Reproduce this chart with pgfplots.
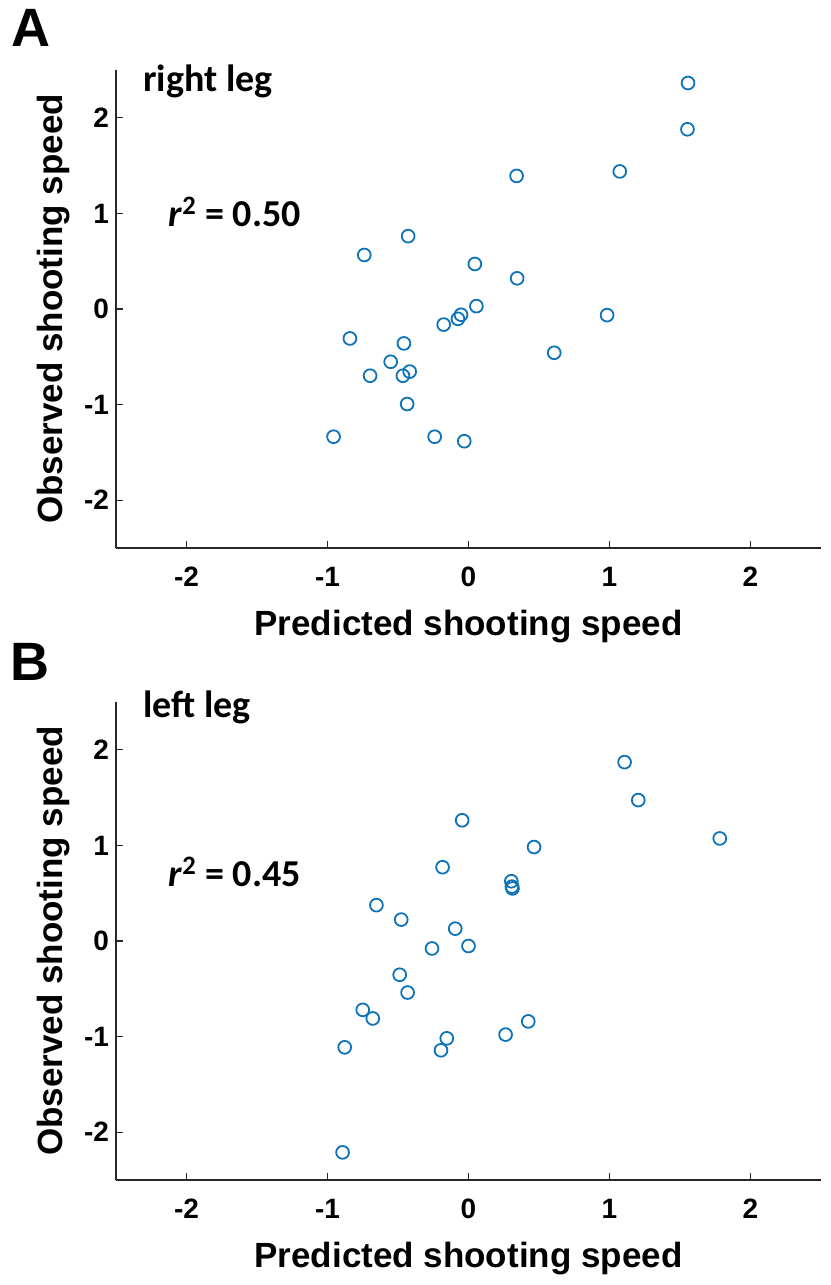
\documentclass[border=0pt]{standalone}
\usepackage{fontspec}
\usepackage{pgfplots}
\pgfplotsset{compat=1.18}
\setmainfont{Liberation Sans}
\newfontfamily\calfont{Carlito}
\definecolor{mblue}{rgb}{0.05,0.45,0.72}
\definecolor{axgray}{rgb}{0.15,0.15,0.15}
\pgfplotsset{panel/.style={
  width=352.5pt, height=239pt, scale only axis,
  xmin=-2.5, xmax=2.5, ymin=-2.5, ymax=2.5,
  axis x line*=bottom, axis y line*=left,
  axis line style={axgray, line width=0.75pt},
  xtick={-2,-1,0,1,2}, ytick={-2,-1,0,1,2},
  xticklabels={-2,-1,0,1,2}, yticklabels={-2,-1,0,1,2},
  tick align=inside, major tick length=3.5pt,
  tick style={axgray, line width=0.6pt},
  ticklabel style={font=\bfseries\fontsize{14}{16}\selectfont, text=black},
  xticklabel style={yshift=-6pt},
  xlabel={Predicted shooting speed}, ylabel={Observed shooting speed},
  label style={font=\bfseries\fontsize{17.5}{20}\selectfont},
  xlabel style={at={(axis description cs:0.5,0)}, anchor=base, yshift=-43.5pt},
  ylabel style={at={(axis description cs:-0.0752,0.5)}, anchor=base},
  clip=false,
}}
\pgfplotsset{pts/.style={only marks, mark=o, mark size=3.2pt, color=mblue, line width=0.9pt}}
\begin{document}
\begin{tikzpicture}
\begin{axis}[panel, at={(0pt,0pt)}, anchor=south west]
\addplot[pts] coordinates {
(1.557,2.364) (1.553,1.880) (1.073,1.439) (0.341,1.392) (-0.428,0.762)
(-0.739,0.565) (0.045,0.471) (0.345,0.321) (0.056,0.030) (-0.053,-0.060)
(-0.075,-0.103) (-0.176,-0.163) (0.983,-0.064) (-0.841,-0.308) (-0.458,-0.360)
(-0.552,-0.552) (0.608,-0.458) (-0.698,-0.698) (-0.465,-0.698) (-0.417,-0.655)
(-0.435,-0.994) (-0.957,-1.336) (-0.240,-1.336) (-0.030,-1.383)
};
\node[anchor=base west, inner sep=0, font=\calfont\bfseries\fontsize{19}{22}\selectfont] at (axis description cs:0.0383,0.956) {right leg};
\node[anchor=base west, inner sep=0, font=\calfont\bfseries\fontsize{19}{22}\selectfont] at (axis description cs:0.0738,0.672) {\textit{r}\textsuperscript{2} = 0.50};
\end{axis}
\begin{axis}[panel, at={(0pt,-316pt)}, anchor=south west]
\addplot[pts] coordinates {
(1.107,1.871) (1.204,1.474) (1.782,1.073) (-0.045,1.263) (0.465,0.983)
(-0.184,0.772) (0.304,0.625) (0.308,0.569) (0.312,0.550) (-0.653,0.375)
(-0.477,0.224) (-0.094,0.129) (0.000,-0.052) (-0.259,-0.078) (-0.488,-0.353)
(-0.432,-0.539) (-0.750,-0.720) (-0.679,-0.810) (0.424,-0.841) (0.263,-0.979)
(-0.154,-1.018) (-0.195,-1.143) (-0.878,-1.112) (-0.893,-2.211)
};
\node[anchor=base west, inner sep=0, font=\calfont\bfseries\fontsize{19}{22}\selectfont] at (axis description cs:0.0383,0.967) {left leg};
\node[anchor=base west, inner sep=0, font=\calfont\bfseries\fontsize{19}{22}\selectfont] at (axis description cs:0.0738,0.613) {\textit{r}\textsuperscript{2} = 0.45};
\end{axis}
\node[font=\bfseries\fontsize{27}{30}\selectfont, inner sep=0] at (-42.5pt,260pt) {A};
\node[font=\bfseries\fontsize{27}{30}\selectfont, inner sep=0] at (-43pt,-57pt) {B};
\pgfresetboundingbox
\useasboundingbox (-58pt,-368.5pt) rectangle (357pt,274pt);
\end{tikzpicture}
\end{document}
